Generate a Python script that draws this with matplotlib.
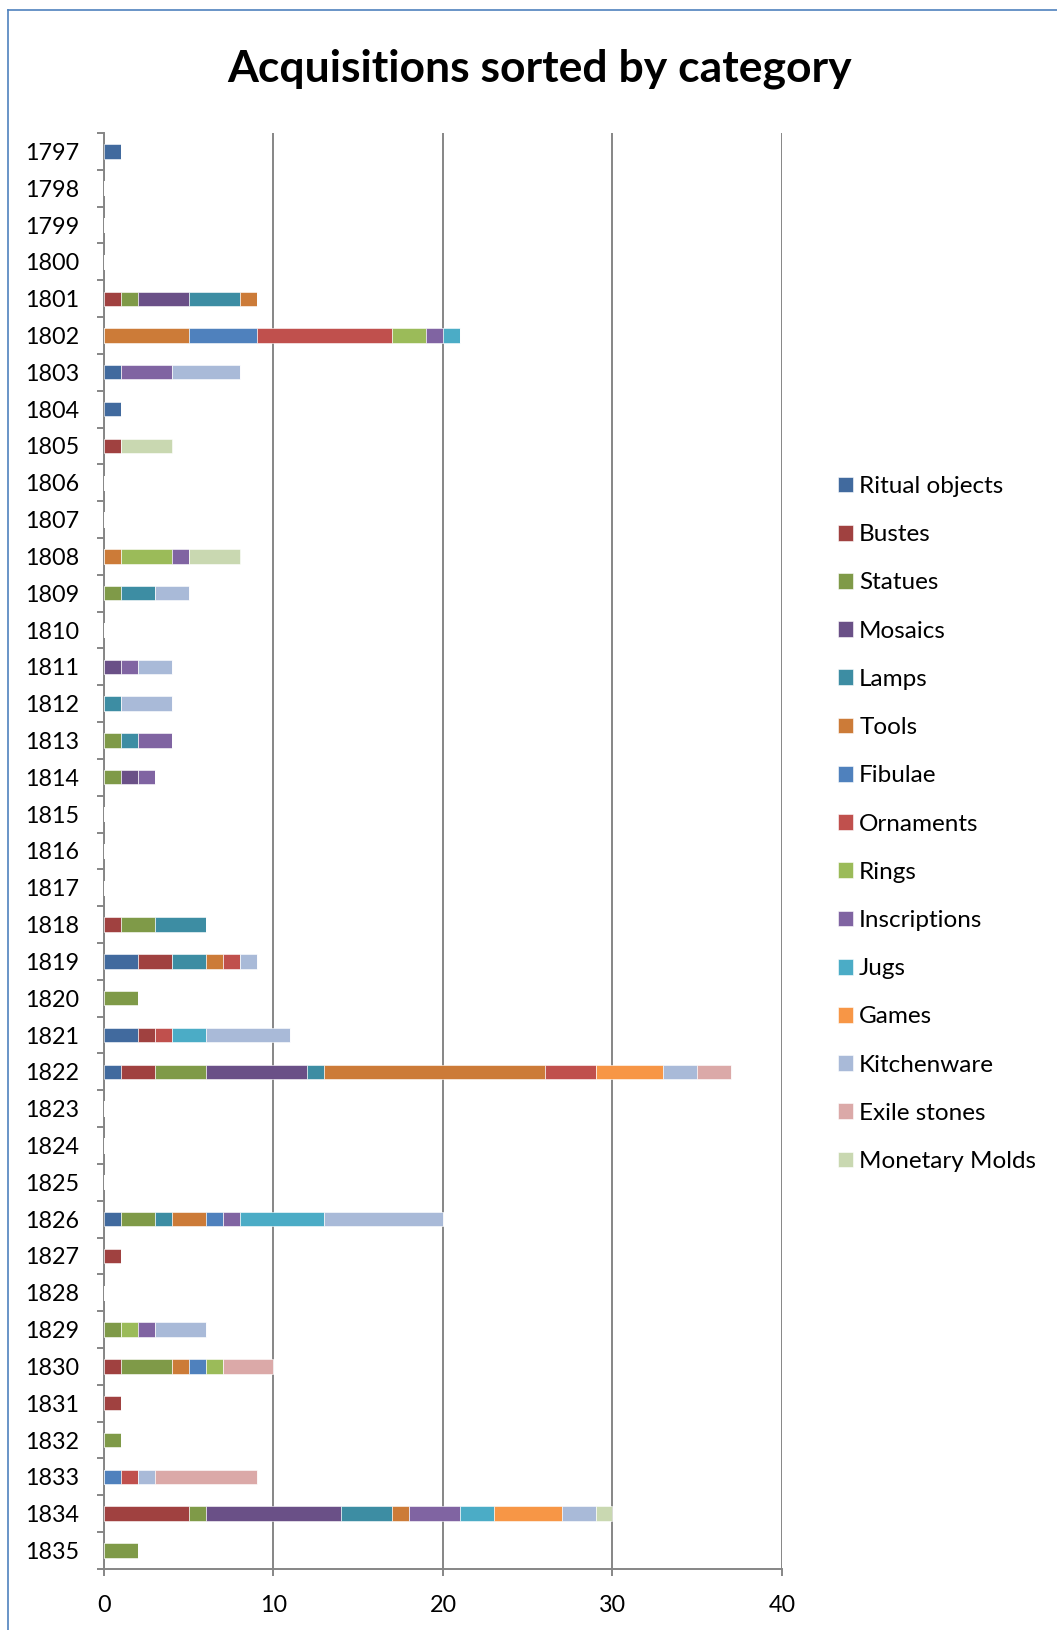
import numpy as np
import matplotlib
matplotlib.use('Agg')
import matplotlib.pyplot as plt
from matplotlib.lines import Line2D

plt.rcParams['font.family'] = ['Lato', 'DejaVu Sans']

years = list(range(1797, 1836))

categories = ['Ritual objects', 'Bustes', 'Statues', 'Mosaics', 'Lamps', 'Tools',
              'Fibulae', 'Ornaments', 'Rings', 'Inscriptions', 'Jugs', 'Games',
              'Kitchenware', 'Exile stones', 'Monetary Molds']

colors = ['#416A9E', '#A04140', '#7F9A48', '#6A5087', '#3D8DA3', '#CC7B38',
          '#4F81BD', '#C0504D', '#9BBB59', '#8064A2', '#4BACC6', '#F79646',
          '#A9BAD8', '#DBA9A8', '#C9D8B1']

# counts per year, in the order of `categories`
acquisitions = {
    1797: [1, 0, 0, 0, 0, 0, 0, 0, 0, 0, 0, 0, 0, 0, 0],
    1801: [0, 1, 1, 3, 3, 1, 0, 0, 0, 0, 0, 0, 0, 0, 0],
    1802: [0, 0, 0, 0, 0, 5, 4, 8, 2, 1, 1, 0, 0, 0, 0],
    1803: [1, 0, 0, 0, 0, 0, 0, 0, 0, 3, 0, 0, 4, 0, 0],
    1804: [1, 0, 0, 0, 0, 0, 0, 0, 0, 0, 0, 0, 0, 0, 0],
    1805: [0, 1, 0, 0, 0, 0, 0, 0, 0, 0, 0, 0, 0, 0, 3],
    1808: [0, 0, 0, 0, 0, 1, 0, 0, 3, 1, 0, 0, 0, 0, 3],
    1809: [0, 0, 1, 0, 2, 0, 0, 0, 0, 0, 0, 0, 2, 0, 0],
    1811: [0, 0, 0, 1, 0, 0, 0, 0, 0, 1, 0, 0, 2, 0, 0],
    1812: [0, 0, 0, 0, 1, 0, 0, 0, 0, 0, 0, 0, 3, 0, 0],
    1813: [0, 0, 1, 0, 1, 0, 0, 0, 0, 2, 0, 0, 0, 0, 0],
    1814: [0, 0, 1, 1, 0, 0, 0, 0, 0, 1, 0, 0, 0, 0, 0],
    1818: [0, 1, 2, 0, 3, 0, 0, 0, 0, 0, 0, 0, 0, 0, 0],
    1819: [2, 2, 0, 0, 2, 1, 0, 1, 0, 0, 0, 0, 1, 0, 0],
    1820: [0, 0, 2, 0, 0, 0, 0, 0, 0, 0, 0, 0, 0, 0, 0],
    1821: [2, 1, 0, 0, 0, 0, 0, 1, 0, 0, 2, 0, 5, 0, 0],
    1822: [1, 2, 3, 6, 1, 13, 0, 3, 0, 0, 0, 4, 2, 2, 0],
    1826: [1, 0, 2, 0, 1, 2, 1, 0, 0, 1, 5, 0, 7, 0, 0],
    1827: [0, 1, 0, 0, 0, 0, 0, 0, 0, 0, 0, 0, 0, 0, 0],
    1829: [0, 0, 1, 0, 0, 0, 0, 0, 1, 1, 0, 0, 3, 0, 0],
    1830: [0, 1, 3, 0, 0, 1, 1, 0, 1, 0, 0, 0, 0, 3, 0],
    1831: [0, 1, 0, 0, 0, 0, 0, 0, 0, 0, 0, 0, 0, 0, 0],
    1832: [0, 0, 1, 0, 0, 0, 0, 0, 0, 0, 0, 0, 0, 0, 0],
    1833: [0, 0, 0, 0, 0, 0, 1, 1, 0, 0, 0, 0, 1, 6, 0],
    1834: [0, 5, 1, 8, 3, 1, 0, 0, 0, 3, 2, 4, 2, 0, 1],
    1835: [0, 0, 2, 0, 0, 0, 0, 0, 0, 0, 0, 0, 0, 0, 0],
}

data = np.array([acquisitions.get(y, [0] * len(categories)) for y in years], dtype=float)

fig = plt.figure(figsize=(10.57, 16.30), dpi=100)
ax = fig.add_axes([0.0984, 0.0375, 0.6414, 0.8809])

ypos = np.arange(len(years))
left = np.zeros(len(years))
for i, cat in enumerate(categories):
    ax.barh(ypos, data[:, i], left=left, height=0.39, color=colors[i],
            edgecolor='#FFFFFF', linewidth=0.4, label=cat, zorder=3)
    left += data[:, i]

ax.set_xlim(0, 40)
ax.set_ylim(len(years) - 0.5, -0.5)
ax.set_xticks([0, 10, 20, 30, 40])
ax.set_yticks(ypos)
ax.set_yticklabels([str(y) for y in years])
ax.set_yticks(np.arange(-0.5, len(years)), minor=True)

ax.grid(axis='x', color='#868686', linewidth=1.4, zorder=0)
for s in ['top', 'right']:
    ax.spines[s].set_visible(False)
for s in ['left', 'bottom']:
    ax.spines[s].set_color('#868686')
    ax.spines[s].set_linewidth(1.4)

ax.tick_params(axis='y', which='major', length=0, pad=18, labelsize=16.8)
ax.tick_params(axis='y', which='minor', length=5, width=1.4, color='#868686')
ax.tick_params(axis='x', which='major', length=5, width=1.4, color='#868686',
               pad=14, labelsize=16.8)

fig.text(0.51, 0.958, 'Acquisitions sorted by category', ha='center', va='center',
         fontsize=32, fontweight='bold')

fig.legend(loc='upper left', bbox_to_anchor=(838 / 1057, 0.708), frameon=False,
           borderpad=0, borderaxespad=0, fontsize=17.5, handlelength=0.62,
           handleheight=0.62, handletextpad=0.25, labelspacing=1.12)

# chart-area frame
fig.add_artist(Line2D([8 / 1057, 8 / 1057], [0, 1 - 10 / 1630], color='#4F81BD', linewidth=1.2))
fig.add_artist(Line2D([8 / 1057, 1], [1 - 10 / 1630, 1 - 10 / 1630], color='#4F81BD', linewidth=1.2))

fig.savefig('out.png', dpi=100)
